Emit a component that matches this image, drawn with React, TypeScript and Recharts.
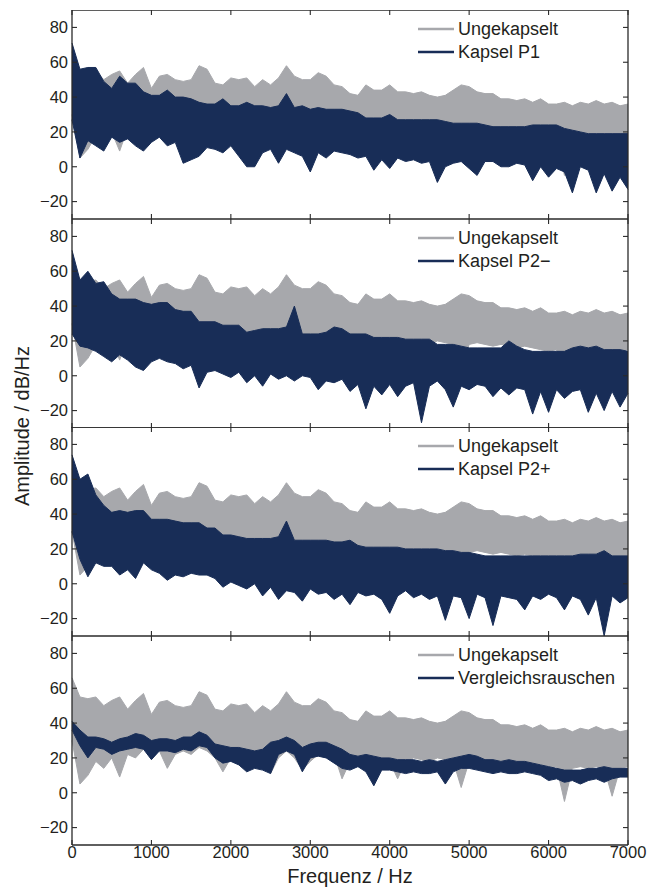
import React from 'react';
import { ComposedChart, Area, XAxis, YAxis, Legend, ReferenceLine } from 'recharts';

// spectra sampled every 100 Hz (0 ... 7000 Hz), upper / lower envelope of the dense trace in dB/Hz
const UNGEKAPSELT_HI = [
  66, 55, 54, 55, 50, 53, 55, 48, 53, 57, 45, 52, 53, 50, 49, 50, 58, 56, 48, 47,
  51, 50, 51, 46, 50, 47, 51, 58, 52, 50, 50, 54, 52, 47, 46, 42, 41, 47, 44, 44,
  47, 43, 43, 42, 43, 41, 40, 41, 44, 47, 46, 43, 42, 42, 39, 39, 38, 39, 37, 39,
  36, 36, 37, 35, 37, 36, 38, 36, 37, 35, 36,
];
const UNGEKAPSELT_LO = [
  30, 5, 10, 18, 14, 20, 9, 22, 20, 25, 22, 24, 14, 22, 24, 22, 26, 24, 20, 12,
  20, 22, 18, 20, 22, 11, 20, 24, 20, 13, 18, 22, 20, 22, 8, 18, 20, 19, 18, 20,
  18, 8, 18, 20, 19, 18, 20, 19, 18, 3, 18, 19, 18, 17, 18, 17, 16, 17, 16, 15,
  14, 15, -5, 14, 15, 14, 15, 14, -2, 14, 15,
];
const P1_HI = [
  71, 56, 57, 57, 49, 45, 52, 48, 48, 43, 41, 41, 44, 40, 40, 39, 37, 36, 36, 39,
  35, 35, 37, 35, 35, 34, 35, 42, 34, 35, 33, 34, 33, 33, 33, 32, 31, 28, 28, 28,
  30, 27, 27, 27, 27, 27, 27, 26, 25, 25, 25, 25, 24, 23, 23, 23, 23, 23, 24, 24,
  24, 24, 22, 21, 20, 19, 19, 19, 19, 19, 19,
];
const P1_LO = [
  27, 5, 15, 12, 9, 17, 14, 16, 12, 9, 14, 17, 12, 14, 2, 4, 6, 11, 10, 8,
  12, 6, 0, 0, 8, 10, 2, 10, 8, 6, -3, 8, 5, 9, 8, 7, 5, 6, -2, 4,
  -1, 5, 3, 4, 2, 3, -9, 0, 2, 3, -1, -5, 3, 3, 0, 0, 2, 1, -8, 0,
  -6, -1, -3, -15, 0, -2, -15, -4, -14, -6, -13,
];
const P2M_HI = [
  72, 55, 60, 53, 54, 47, 44, 44, 44, 42, 41, 42, 42, 38, 37, 37, 31, 31, 31, 29,
  29, 29, 25, 26, 27, 27, 27, 28, 40, 24, 24, 24, 25, 28, 27, 24, 24, 24, 22, 22,
  22, 22, 21, 21, 21, 21, 18, 18, 18, 17, 16, 16, 16, 16, 16, 20, 17, 15, 14, 14,
  14, 14, 14, 16, 17, 16, 17, 15, 15, 15, 14,
];
const P2M_LO = [
  24, 17, 16, 14, 11, 8, 12, 9, 5, 3, 8, 10, 8, 7, 4, 6, -7, 2, 3, 1,
  -1, 2, -4, 0, -6, 1, -2, 0, -3, 0, -1, -8, -3, -4, -2, -9, -5, -19, -6, -11,
  -5, -12, -6, -4, -27, -6, -3, -8, -18, -6, -8, -5, -6, -12, -7, -11, -7, -8, -22, -9,
  -21, -8, -13, -9, -8, -21, -10, -20, -9, -18, -10,
];
const P2P_HI = [
  74, 60, 63, 51, 45, 41, 42, 41, 42, 42, 37, 37, 37, 36, 35, 35, 35, 32, 32, 28,
  28, 27, 26, 26, 26, 26, 27, 36, 25, 25, 25, 25, 25, 24, 24, 25, 22, 21, 21, 21,
  21, 21, 20, 20, 20, 20, 20, 19, 19, 18, 18, 17, 16, 16, 16, 16, 16, 16, 16, 16,
  16, 16, 16, 16, 17, 17, 17, 19, 16, 16, 16,
];
const P2P_LO = [
  30, 14, 4, 12, 10, 10, 5, 8, 3, 12, 8, 6, 2, 5, 4, 6, 5, 5, 3, -2,
  1, -1, -3, 0, -7, -2, -9, -4, -5, -10, -3, -6, -5, -9, -6, -12, -5, -7, -6, -9,
  -17, -7, -4, -8, -6, -9, -7, -21, -7, -8, -20, -6, -8, -24, -7, -8, -9, -15, -7, -9,
  -6, -8, -15, -7, -9, -18, -8, -30, -7, -11, -8,
];
const REF_HI = [
  41, 36, 32, 32, 31, 29, 31, 32, 34, 33, 30, 31, 31, 30, 32, 32, 35, 33, 28, 27,
  26, 26, 25, 24, 25, 29, 30, 32, 30, 26, 28, 29, 29, 27, 25, 22, 21, 22, 21, 20,
  20, 19, 19, 19, 18, 19, 18, 19, 20, 21, 22, 21, 19, 19, 18, 19, 18, 18, 17, 16,
  15, 14, 13, 13, 13, 14, 14, 15, 14, 14, 14,
];
const REF_LO = [
  36, 27, 20, 26, 25, 22, 24, 25, 26, 25, 19, 24, 24, 23, 25, 24, 27, 26, 20, 17,
  18, 16, 12, 14, 13, 11, 22, 24, 22, 12, 20, 21, 20, 17, 14, 13, 15, 12, 4, 13,
  13, 12, 11, 12, 11, 11, 12, 5, 12, 14, 14, 13, 12, 11, 12, 11, 11, 12, 11, 10,
  7, 8, 6, 7, 5, 7, 8, 6, 8, 9, 9,
];

const FREQ = UNGEKAPSELT_HI.map((_, i) => i * 100);
const X_TICKS = [0, 1000, 2000, 3000, 4000, 5000, 6000, 7000];
const Y_TICKS = [-20, 0, 20, 40, 60, 80];
const X_DOMAIN = [0, 7000];
const Y_DOMAIN = [-30, 90];

const PANELS = [
  { name: 'Kapsel P1', hi: P1_HI, lo: P1_LO },
  { name: 'Kapsel P2\u2212', hi: P2M_HI, lo: P2M_LO },
  { name: 'Kapsel P2+', hi: P2P_HI, lo: P2P_LO },
  { name: 'Vergleichsrauschen', hi: REF_HI, lo: REF_LO },
];

const GRAY = '#a7a8ac';
const NAVY = '#182d57';
const AXIS = '#2a2a2a';
const TEXT = '#231f20';
const FONT = '"Liberation Sans", Arial, Helvetica, sans-serif';
const PLOT_W = 556;
const PLOT_H = 209;
const PANEL_TOPS = [10, 219, 427, 636];
// inward tick length of 5px, expressed in data units
const TICK_X = ((X_DOMAIN[1] - X_DOMAIN[0]) * 5) / PLOT_W;
const TICK_Y = ((Y_DOMAIN[1] - Y_DOMAIN[0]) * 5) / PLOT_H;

const fmt = (v: number) => (v < 0 ? `\u2212${-v}` : `${v}`);
const tickStyle = { fontSize: 16.5, fill: TEXT, fontFamily: FONT };

const PanelLegend = ({ items }: { items: { name: string; color: string }[] }) => (
  <div style={{ fontFamily: FONT, fontSize: 18, color: TEXT, lineHeight: '22px' }}>
    {items.map((p) => (
      <div key={p.name} style={{ display: 'flex', alignItems: 'center', height: 22.5 }}>
        <svg width={40} height={6} style={{ display: 'block' }}>
          <line x1={0} y1={3} x2={36} y2={3} stroke={p.color} strokeWidth={2.5} />
        </svg>
        <span style={{ whiteSpace: 'nowrap' }}>{p.name}</span>
      </div>
    ))}
  </div>
);

function Panel({ index }: { index: number }) {
  const panel = PANELS[index];
  const showX = index === PANELS.length - 1;
  const data = FREQ.map((f, i) => ({
    f,
    ungekapselt: [UNGEKAPSELT_LO[i], UNGEKAPSELT_HI[i]],
    kapsel: [panel.lo[i], panel.hi[i]],
  }));
  const frame = { stroke: AXIS, strokeWidth: 1.3 };
  const tickLine = { stroke: AXIS, strokeWidth: 1.1 };
  const legendItems = [
    { name: 'Ungekapselt', color: GRAY },
    { name: panel.name, color: NAVY },
  ];
  return (
    <div style={{ position: 'absolute', left: 0, top: PANEL_TOPS[index] }}>
      <ComposedChart
        width={659}
        height={PLOT_H + (showX ? 45 : 0)}
        data={data}
        margin={{ top: 0, right: 31, bottom: 0, left: 0 }}
      >
        <XAxis
          dataKey="f"
          type="number"
          domain={X_DOMAIN}
          ticks={X_TICKS}
          interval={0}
          hide={!showX}
          height={45}
          tickSize={1}
          tickMargin={0}
          tickLine={false}
          axisLine={false}
          tick={tickStyle}
        />
        <YAxis
          type="number"
          domain={Y_DOMAIN}
          ticks={Y_TICKS}
          interval={0}
          width={72}
          tickSize={4}
          tickMargin={0}
          tickLine={false}
          axisLine={false}
          tick={tickStyle}
          tickFormatter={fmt}
          allowDataOverflow
        />
        <Area
          type="linear"
          dataKey="ungekapselt"
          name="Ungekapselt"
          stroke={GRAY}
          strokeWidth={1}
          fill={GRAY}
          fillOpacity={1}
          dot={false}
          activeDot={false}
          isAnimationActive={false}
        />
        <Area
          type="linear"
          dataKey="kapsel"
          name={panel.name}
          stroke={NAVY}
          strokeWidth={1}
          fill={NAVY}
          fillOpacity={1}
          dot={false}
          activeDot={false}
          isAnimationActive={false}
        />
        {/* box */}
        <ReferenceLine x={X_DOMAIN[0]} {...frame} />
        <ReferenceLine x={X_DOMAIN[1]} {...frame} />
        <ReferenceLine y={Y_DOMAIN[0]} {...frame} />
        <ReferenceLine y={Y_DOMAIN[1]} {...frame} />
        {/* inward ticks on all four sides */}
        {X_TICKS.map((t) => (
          <ReferenceLine
            key={`b${t}`}
            segment={[{ x: t, y: Y_DOMAIN[0] }, { x: t, y: Y_DOMAIN[0] + TICK_Y }]}
            {...tickLine}
          />
        ))}
        {X_TICKS.map((t) => (
          <ReferenceLine
            key={`t${t}`}
            segment={[{ x: t, y: Y_DOMAIN[1] }, { x: t, y: Y_DOMAIN[1] - TICK_Y }]}
            {...tickLine}
          />
        ))}
        {Y_TICKS.map((t) => (
          <ReferenceLine
            key={`l${t}`}
            segment={[{ x: X_DOMAIN[0], y: t }, { x: X_DOMAIN[0] + TICK_X, y: t }]}
            {...tickLine}
          />
        ))}
        {Y_TICKS.map((t) => (
          <ReferenceLine
            key={`r${t}`}
            segment={[{ x: X_DOMAIN[1], y: t }, { x: X_DOMAIN[1] - TICK_X, y: t }]}
            {...tickLine}
          />
        ))}
        <Legend
          layout="vertical"
          align="center"
          verticalAlign="middle"
          content={<PanelLegend items={legendItems} />}
          wrapperStyle={{ left: 418, top: 8, width: 'auto' }}
        />
      </ComposedChart>
    </div>
  );
}

export default function App() {
  return (
    <div style={{ position: 'absolute', left: 0, top: 0, width: 659, height: 888, background: '#fff', overflow: 'hidden' }}>
      <svg width={659} height={888} style={{ position: 'absolute', left: 0, top: 0 }}>
        <text
          transform="rotate(-90)"
          x={-426}
          y={29}
          textAnchor="middle"
          fontSize={20}
          fontFamily={FONT}
          fill={TEXT}
        >
          Amplitude / dB/Hz
        </text>
        <text x={350} y={883} textAnchor="middle" fontSize={20} fontFamily={FONT} fill={TEXT}>
          Frequenz / Hz
        </text>
      </svg>
      {PANELS.map((p, i) => (
        <Panel key={p.name} index={i} />
      ))}
    </div>
  );
}
